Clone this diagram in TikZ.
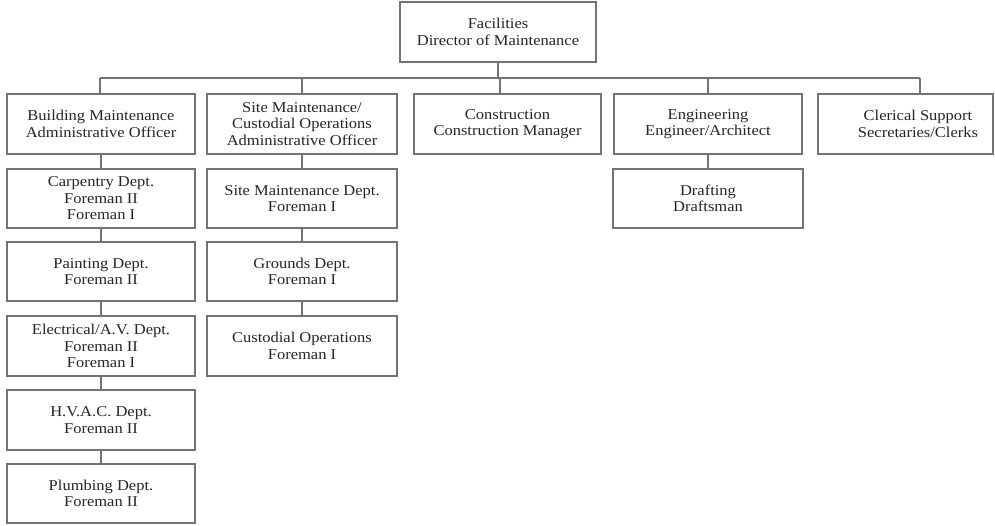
\documentclass[tikz,border=0pt]{standalone}
\usepackage{fontspec}
\setmainfont{Liberation Serif}[FakeStretch=1.1]
\begin{document}
\begin{tikzpicture}[x=1pt,y=1pt,
  orgbox/.style={draw=black!55, line width=1.3pt, minimum height=60pt,
    inner sep=0pt, align=center, text=black!85,
    font=\fontsize{15}{16.5}\selectfont},
  link/.style={draw=black!55, line width=1.3pt}]
\useasboundingbox[fill=white] (0,0) rectangle (995,-525);

% director
\node[orgbox, minimum width=196pt] (top) at (498,-32) {Facilities\\Director of Maintenance};

% first level
\node[orgbox, minimum width=188pt] (bm)  at (101,-124) {Building Maintenance\\Administrative Officer};
\node[orgbox, minimum width=190pt] (sm)  at (302,-124) {Site Maintenance/\\Custodial Operations\\Administrative Officer};
\node[orgbox, minimum width=187pt] (con) at (507.5,-124) {Construction\\Construction Manager};
\node[orgbox, minimum width=188pt] (eng) at (708,-124) {Engineering\\Engineer/Architect};
\node[orgbox, minimum width=175pt] (cle) at (905.5,-124) {};
\node[align=center, inner sep=0pt, text=black!85, font=\fontsize{15}{16.5}\selectfont]
  (cletext) at (918,-124) {Clerical Support\\Secretaries/Clerks};

% building maintenance departments
\node[orgbox, minimum width=188pt, minimum height=59pt] (carp)  at (101,-198.5) {Carpentry Dept.\\Foreman II\\Foreman I};
\node[orgbox, minimum width=188pt, minimum height=59pt] (paint) at (101,-271.5) {Painting Dept.\\Foreman II};
\node[orgbox, minimum width=188pt] (elec)  at (101,-346) {Electrical/A.V. Dept.\\Foreman II\\Foreman I};
\node[orgbox, minimum width=188pt] (hvac)  at (101,-420) {H.V.A.C. Dept.\\Foreman II};
\node[orgbox, minimum width=188pt, minimum height=59pt] (plumb) at (101,-493.5) {Plumbing Dept.\\Foreman II};

% site maintenance departments
\node[orgbox, minimum width=190pt, minimum height=59pt] (smd)  at (302,-198.5) {Site Maintenance Dept.\\Foreman I};
\node[orgbox, minimum width=190pt, minimum height=59pt] (grd)  at (302,-271.5) {Grounds Dept.\\Foreman I};
\node[orgbox, minimum width=190pt] (cust) at (302,-346) {Custodial Operations\\Foreman I};

% engineering
\node[orgbox, minimum width=190pt, minimum height=59pt] (draft) at (708,-198.5) {Drafting\\Draftsman};

% bus line and drops
\coordinate (busL) at (100,-78);
\coordinate (busR) at (920,-78);
\coordinate (conTop) at (500,-94);
\coordinate (cleTop) at (920,-94);
\draw[link] (top.south) -- (top.south |- busL);
\draw[link] (busL) -- (busR);
\draw[link] (busL) -- (busL |- bm.north);
\draw[link] (sm.north |- busL) -- (sm.north);
\draw[link] (conTop |- busL) -- (conTop);
\draw[link] (eng.north |- busL) -- (eng.north);
\draw[link] (busR) -- (cleTop);

% column links
\draw[link] (bm.south) -- (carp.north);
\draw[link] (carp.south) -- (paint.north);
\draw[link] (paint.south) -- (elec.north);
\draw[link] (elec.south) -- (hvac.north);
\draw[link] (hvac.south) -- (plumb.north);
\draw[link] (sm.south) -- (smd.north);
\draw[link] (smd.south) -- (grd.north);
\draw[link] (grd.south) -- (cust.north);
\draw[link] (eng.south) -- (draft.north);
\end{tikzpicture}
\end{document}
